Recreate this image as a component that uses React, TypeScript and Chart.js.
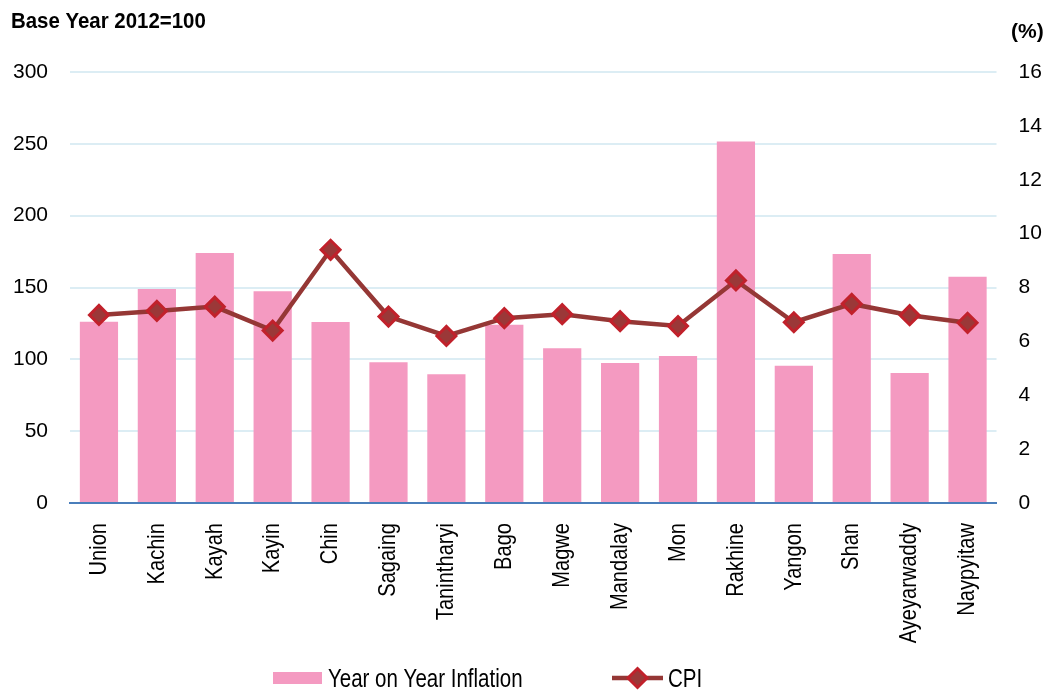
import React, { useEffect, useRef } from "react";
import { Chart, registerables } from "chart.js";

Chart.register(...registerables);

const categories = [
  "Union", "Kachin", "Kayah", "Kayin", "Chin", "Sagaing", "Tanintharyi", "Bago",
  "Magwe", "Mandalay", "Mon", "Rakhine", "Yangon", "Shan", "Ayeyarwaddy", "Naypyitaw",
];
const barValues = [126.2, 149.0, 174.1, 147.4, 126.0, 97.9, 89.7, 124.1, 107.7, 97.4, 102.3, 251.7, 95.5, 173.4, 90.5, 157.4];
const lineValues = [6.98, 7.13, 7.29, 6.4, 9.4, 6.92, 6.2, 6.86, 7.01, 6.75, 6.57, 8.26, 6.71, 7.39, 6.97, 6.69];
const barLabel = "Year on Year Inflation";
const lineLabel = "CPI";
const leftTitle = "Base Year 2012=100";
const rightTitle = "(%)";

const BAR_COLOR = "#f49ac1";
const LINE_COLOR = "#953735";
const MARKER_FILL = "#9b3838";
const MARKER_BORDER = "#c1212b";
const GRID_COLOR = "#dcedf4";
const AXIS_COLOR = "#4a7ebb";
const SANS = "'Liberation Sans', Arial, sans-serif";
const NARROW_FACTOR = 0.82;

// draw text horizontally condensed (emulates a narrow typeface)
function fillCondensed(ctx: CanvasRenderingContext2D, text: string, x: number, y: number, factor: number) {
  ctx.save();
  ctx.translate(x, y);
  ctx.scale(factor, 1);
  ctx.fillText(text, 0, 0);
  ctx.restore();
}

function patchCondensedLabels(scale: any, factor: number) {
  if (scale.__condensed) return;
  scale.__condensed = true;
  const orig = scale.drawLabels;
  scale.drawLabels = function (area: any) {
    const ctx = this.ctx as any;
    const proto = Object.getPrototypeOf(ctx);
    const nativeFill = proto.fillText;
    ctx.fillText = function (text: string, x: number, y: number) {
      this.save();
      this.translate(x, y);
      this.scale(factor, 1);
      nativeFill.call(this, text, 0, 0);
      this.restore();
    };
    try {
      orig.call(this, area);
    } finally {
      delete ctx.fillText;
    }
  };
}

const decorPlugin = {
  id: "decor",
  afterDraw(chart: any) {
    const ctx = chart.ctx as CanvasRenderingContext2D;
    ctx.save();
    ctx.fillStyle = "#000";
    ctx.textBaseline = "alphabetic";
    ctx.textAlign = "left";
    ctx.font = `bold 21.5px ${SANS}`;
    fillCondensed(ctx, leftTitle, 11, 28, 0.95);
    ctx.font = `bold 21px ${SANS}`;
    ctx.fillText(rightTitle, 1011, 38);

    // legend
    const cy = 678;
    ctx.fillStyle = BAR_COLOR;
    ctx.fillRect(273, 672, 49, 12);
    ctx.fillStyle = "#000";
    ctx.font = `25px ${SANS}`;
    fillCondensed(ctx, barLabel, 328, 687, NARROW_FACTOR);

    ctx.strokeStyle = LINE_COLOR;
    ctx.lineWidth = 4.5;
    ctx.beginPath();
    ctx.moveTo(612, cy);
    ctx.lineTo(663, cy);
    ctx.stroke();
    const dx = 637.5;
    const r = 9.5;
    ctx.beginPath();
    ctx.moveTo(dx, cy - r);
    ctx.lineTo(dx + r, cy);
    ctx.lineTo(dx, cy + r);
    ctx.lineTo(dx - r, cy);
    ctx.closePath();
    ctx.fillStyle = MARKER_FILL;
    ctx.fill();
    ctx.strokeStyle = MARKER_BORDER;
    ctx.lineWidth = 3;
    ctx.stroke();
    ctx.fillStyle = "#000";
    fillCondensed(ctx, lineLabel, 668, 687, NARROW_FACTOR);
    ctx.restore();
  },
};

export default function App() {
  const canvasRef = useRef<HTMLCanvasElement | null>(null);

  useEffect(() => {
    document.body.style.margin = "0";
    const canvas = canvasRef.current;
    if (!canvas) return;
    const chart = new Chart(canvas, {
      type: "bar",
      data: {
        labels: categories,
        datasets: [
          {
            type: "line",
            label: lineLabel,
            data: lineValues,
            yAxisID: "y1",
            borderColor: LINE_COLOR,
            borderWidth: 4.5,
            pointStyle: "rectRot",
            pointRadius: 9.5,
            pointBackgroundColor: MARKER_FILL,
            pointBorderColor: MARKER_BORDER,
            pointBorderWidth: 3,
            tension: 0,
            order: 0,
          } as any,
          {
            type: "bar",
            label: barLabel,
            data: barValues,
            yAxisID: "y",
            backgroundColor: BAR_COLOR,
            categoryPercentage: 1,
            barPercentage: 0.66,
            order: 1,
          },
        ],
      },
      options: {
        responsive: false,
        animation: false,
        layout: { padding: { top: 72, bottom: 39, left: 0, right: 0 } },
        plugins: {
          legend: { display: false },
          tooltip: { enabled: false },
          title: { display: false },
        },
        scales: {
          x: {
            grid: { display: false, drawTicks: false },
            border: { display: true, color: AXIS_COLOR, width: 2 },
            ticks: {
              autoSkip: false,
              maxRotation: 90,
              minRotation: 90,
              padding: 20,
              color: "#000",
              font: { family: SANS, size: 24.5 },
            },
            afterFit(scale: any) {
              scale.height = 150;
            },
            afterUpdate(scale: any) {
              patchCondensedLabels(scale, NARROW_FACTOR);
            },
          },
          y: {
            position: "left",
            min: 0,
            max: 300,
            ticks: {
              stepSize: 50,
              padding: 22,
              color: "#000",
              font: { family: SANS, size: 21 },
            },
            grid: {
              drawTicks: false,
              color: (ctx: any) => (ctx.tick && ctx.tick.value === 0 ? "rgba(0,0,0,0)" : GRID_COLOR),
              lineWidth: 2,
            },
            border: { display: false },
            afterFit(scale: any) {
              scale.width = 70;
            },
          },
          y1: {
            position: "right",
            min: 0,
            max: 16,
            ticks: {
              stepSize: 2,
              padding: 22,
              color: "#000",
              font: { family: SANS, size: 21 },
            },
            grid: { display: false, drawTicks: false },
            border: { display: false },
            afterFit(scale: any) {
              scale.width = 52.5;
            },
          },
        },
      },
      plugins: [decorPlugin],
    });
    return () => chart.destroy();
  }, []);

  return (
    <div style={{ width: 1049, height: 692 }}>
      <canvas ref={canvasRef} width={1049} height={692} style={{ display: "block" }} />
    </div>
  );
}
